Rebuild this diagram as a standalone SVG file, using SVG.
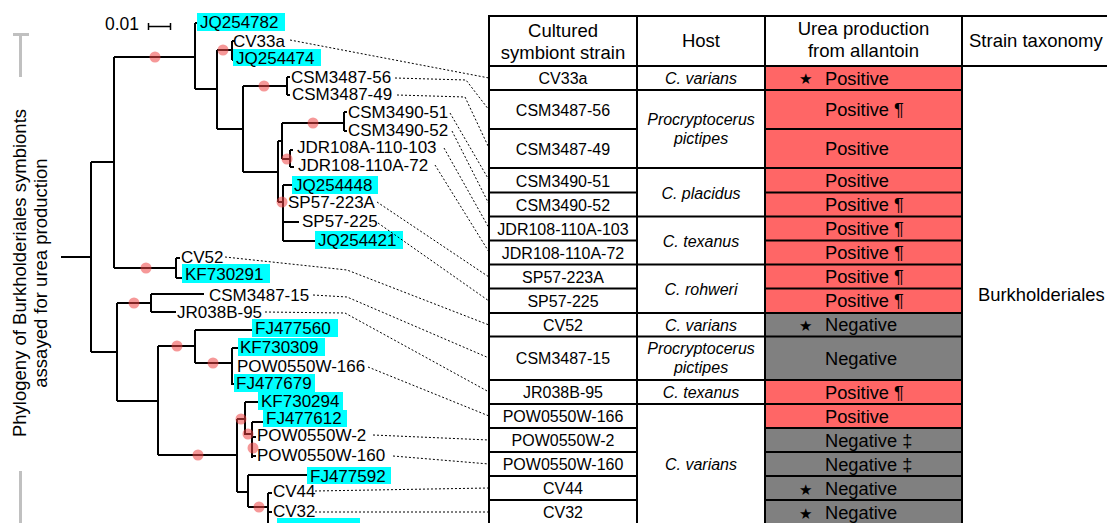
<svg xmlns="http://www.w3.org/2000/svg" width="1107" height="523" viewBox="0 0 1107 523">
<style>
text{font-family:"Liberation Sans",Arial,sans-serif;fill:#000}
.br{fill:none;stroke:#000;stroke-width:2}
.dot{fill:#ee4444;fill-opacity:.55}
.lab{font-size:17px}
.hl{fill:#00ffff}
.con{fill:none;stroke:#000;stroke-width:1;stroke-dasharray:2 2}
.tl{fill:none;stroke:#000;stroke-width:2}
.hd{font-size:18.5px;text-anchor:middle}
.cell{font-size:16px;text-anchor:middle}
.host{font-size:16px;text-anchor:middle;font-style:italic}
.ur{font-size:18.3px}
.pos{fill:#ff6666}
.neg{fill:#808080}
.star{font-family:"DejaVu Sans",sans-serif;font-size:15px}
.gray{fill:none;stroke:#c0c0c0;stroke-width:3}
</style>

<g id="side-label">
<path class="gray" d="M13,34.5 H29 M20.5,34 V77 M20.5,471 V523"/>
<text transform="translate(26,273) rotate(-90)" font-size="18.5" text-anchor="middle">Phylogeny of Burkholderiales symbionts</text>
<text transform="translate(47,273) rotate(-90)" font-size="18.5" text-anchor="middle">assayed for urea production</text>
</g>

<g id="scale-bar">
<text x="105" y="30" font-size="17.5">0.01</text>
<path class="br" d="M148,26.5 H171 M148.5,23 V30 M170.5,23 V30" style="stroke-width:1.5"/>
</g>

<g id="tree">
<path class="br" d="M61,257 H91 M91,162 V352
M91,162 H114 M114,57 V268 M114,57 H195 M195,23 V89 M195,23 H199
M195,89 H217 M217,50 V129 M217,50 H232 M232,41 V60 M232,41 H235 M232,60 H235
M217,129 H243 M243,86 V172 M243,86 H287 M287,77 V95 M287,77 H290 M287,95 H290
M243,172 H278 M278,141 V202 M278,141 H282 M282,123 V159 M282,123 H344 M344,112 V131 M344,112 H347 M344,131 H347
M282,159 H290 M290,150 V167 M290,150 H293 M290,167 H294
M278,202 H283 M283,185 V241 M283,185 H292 M283,222 H299 M283,241 H315
M114,268 H176 M176,258 V278 M176,258 H180 M176,278 H182
M91,352 H117 M117,303 V401 M117,303 H151 M151,294 V312 M151,294 H204 M151,312 H176
M117,401 H158 M158,346 V455 M158,346 H195 M195,330 V363 M195,330 H252 M195,363 H232 M232,348 V385 M232,348 H238 M232,384 H234
M158,455 H237 M237,419 V492 M237,419 H245 M245,402 V435 M245,402 H260 M245,434 H252 M252,422 V458 M252,422 H263 M252,437 H256 M252,456 H256
M237,492 H248 M248,475 V507 M248,475 H307 M248,507 H268 M268,493 V523 M268,493 H272 M268,512 H272"/>
<circle class="dot" cx="155" cy="57" r="5.5"/>
<circle class="dot" cx="223" cy="50" r="5.5"/>
<circle class="dot" cx="264" cy="86" r="5.5"/>
<circle class="dot" cx="313" cy="123" r="5.5"/>
<circle class="dot" cx="287" cy="159" r="5.5"/>
<circle class="dot" cx="282" cy="202" r="5.5"/>
<circle class="dot" cx="146" cy="268" r="5.5"/>
<circle class="dot" cx="134" cy="303" r="5.5"/>
<circle class="dot" cx="177" cy="346" r="5.5"/>
<circle class="dot" cx="213" cy="363" r="5.5"/>
<circle class="dot" cx="198" cy="455" r="5.5"/>
<circle class="dot" cx="241" cy="419" r="5.5"/>
<circle class="dot" cx="248" cy="434" r="5.5"/>
<circle class="dot" cx="253" cy="448" r="5.5"/>
<circle class="dot" cx="259" cy="507" r="5.5"/>
</g>

<g id="leaves">
<rect class="hl" x="197" y="13" width="88" height="18"/><text class="lab" x="200" y="28">JQ254782</text>
<text class="lab" x="233" y="47">CV33a</text>
<rect class="hl" x="233" y="49" width="88" height="17"/><text class="lab" x="236" y="64">JQ254474</text>
<text class="lab" x="291" y="83">CSM3487-56</text>
<text class="lab" x="292" y="100">CSM3487-49</text>
<text class="lab" x="348" y="118">CSM3490-51</text>
<text class="lab" x="348" y="136">CSM3490-52</text>
<text class="lab" x="297" y="153">JDR108A-110-103</text>
<text class="lab" x="298" y="171">JDR108-110A-72</text>
<rect class="hl" x="292" y="176" width="86" height="18"/><text class="lab" x="294" y="191">JQ254448</text>
<text class="lab" x="288" y="208">SP57-223A</text>
<text class="lab" x="302" y="227">SP57-225</text>
<rect class="hl" x="315" y="231" width="88" height="18"/><text class="lab" x="318" y="246">JQ254421</text>
<text class="lab" x="181" y="263">CV52</text>
<rect class="hl" x="182" y="264" width="88" height="19"/><text class="lab" x="185" y="280">KF730291</text>
<text class="lab" x="209" y="301">CSM3487-15</text>
<text class="lab" x="177" y="318">JR038B-95</text>
<rect class="hl" x="252" y="319" width="86" height="18"/><text class="lab" x="255" y="334">FJ477560</text>
<rect class="hl" x="238" y="338" width="87" height="18"/><text class="lab" x="240" y="353">KF730309</text>
<text class="lab" x="237" y="372">POW0550W-166</text>
<rect class="hl" x="234" y="374" width="81" height="18"/><text class="lab" x="236" y="389">FJ477679</text>
<rect class="hl" x="258" y="392" width="85" height="18"/><text class="lab" x="261" y="407">KF730294</text>
<rect class="hl" x="263" y="410" width="84" height="17"/><text class="lab" x="266" y="424">FJ477612</text>
<text class="lab" x="257" y="441">POW0550W-2</text>
<text class="lab" x="257" y="461">POW0550W-160</text>
<rect class="hl" x="307" y="467" width="84" height="17"/><text class="lab" x="310" y="482">FJ477592</text>
<text class="lab" x="273" y="497">CV44</text>
<text class="lab" x="273" y="517">CV32</text>
<rect class="hl" x="277" y="518" width="83" height="10"/>
</g>

<g id="connectors">
<path class="con" d="M290,40 L489,78"/>
<path class="con" d="M395,78 L466,80 L489,110"/>
<path class="con" d="M397,95 L465,97 L489,148"/>
<path class="con" d="M450,113 L489,180"/>
<path class="con" d="M452,131 L489,204"/>
<path class="con" d="M444,148 L489,228"/>
<path class="con" d="M435,165 L489,252"/>
<path class="con" d="M377,202 L489,277"/>
<path class="con" d="M378,223 L489,301"/>
<path class="con" d="M225,257 L347,270 L489,325"/>
<path class="con" d="M313,295 L347,297 L489,358"/>
<path class="con" d="M265,312 L345,313 L489,392"/>
<path class="con" d="M368,367 L489,416"/>
<path class="con" d="M373,435 L489,440"/>
<path class="con" d="M393,456 L489,464"/>
<path class="con" d="M315,491 L489,488"/>
<path class="con" d="M315,512 L489,512"/>
</g>

<g id="table">
<rect class="pos" x="765" y="66" width="197" height="247"/>
<rect class="neg" x="765" y="313" width="197" height="67"/>
<rect class="pos" x="765" y="380" width="197" height="48"/>
<rect class="neg" x="765" y="428" width="197" height="96"/>
<path class="tl" d="M489,16 H1107 M489,66 H1107
M489,15 V524 M637,15 V524 M765,15 V524 M962,15 V524
M489,90 H962 M489,129 H637 M765,129 H962 M489,168 H962
M489,192.5 H637 M765,192.5 H962 M489,216.5 H962
M489,240.5 H637 M765,240.5 H962 M489,264.5 H962
M489,288.5 H637 M765,288.5 H962 M489,313 H962
M489,336.5 H962 M489,380 H962 M489,404 H962
M489,428 H637 M765,428 H962 M489,452 H637 M765,452 H962
M489,476 H637 M765,476 H962 M489,500 H637 M765,500 H962"/>
<text class="hd" x="563" y="36.5">Cultured</text>
<text class="hd" x="563" y="58.5">symbiont strain</text>
<text class="hd" x="701" y="46.5">Host</text>
<text class="hd" x="863.5" y="35">Urea production</text>
<text class="hd" x="863.5" y="57">from allantoin</text>
<text x="969" y="46.5" font-size="18.5">Strain taxonomy</text>

<text class="cell" x="563" y="84">CV33a</text>
<text class="cell" x="563" y="115.5">CSM3487-56</text>
<text class="cell" x="563" y="154.5">CSM3487-49</text>
<text class="cell" x="563" y="186.5">CSM3490-51</text>
<text class="cell" x="563" y="210.5">CSM3490-52</text>
<text class="cell" x="563" y="234.5">JDR108-110A-103</text>
<text class="cell" x="563" y="258.5">JDR108-110A-72</text>
<text class="cell" x="563" y="282.5">SP57-223A</text>
<text class="cell" x="563" y="307">SP57-225</text>
<text class="cell" x="563" y="331">CV52</text>
<text class="cell" x="563" y="364">CSM3487-15</text>
<text class="cell" x="563" y="398">JR038B-95</text>
<text class="cell" x="563" y="422">POW0550W-166</text>
<text class="cell" x="563" y="446">POW0550W-2</text>
<text class="cell" x="563" y="470">POW0550W-160</text>
<text class="cell" x="563" y="494">CV44</text>
<text class="cell" x="563" y="518">CV32</text>

<text class="host" x="701" y="84">C. varians</text>
<text class="host" x="701" y="125">Procryptocerus</text>
<text class="host" x="701" y="144">pictipes</text>
<text class="host" x="701" y="198.5">C. placidus</text>
<text class="host" x="701" y="246.5">C. texanus</text>
<text class="host" x="701" y="295">C. rohweri</text>
<text class="host" x="701" y="331">C. varians</text>
<text class="host" x="701" y="354">Procryptocerus</text>
<text class="host" x="701" y="373">pictipes</text>
<text class="host" x="701" y="398">C. texanus</text>
<text class="host" x="701" y="470">C. varians</text>

<text class="star" x="799" y="84">★</text>
<text class="ur" x="825" y="84.5">Positive</text>
<text class="ur" x="825" y="116">Positive ¶</text>
<text class="ur" x="825" y="155">Positive</text>
<text class="ur" x="825" y="187">Positive</text>
<text class="ur" x="825" y="211">Positive ¶</text>
<text class="ur" x="825" y="235">Positive ¶</text>
<text class="ur" x="825" y="259">Positive ¶</text>
<text class="ur" x="825" y="283">Positive ¶</text>
<text class="ur" x="825" y="307">Positive ¶</text>
<text class="star" x="799" y="331">★</text>
<text class="ur" x="825" y="331">Negative</text>
<text class="ur" x="825" y="365">Negative</text>
<text class="ur" x="825" y="398.5">Positive ¶</text>
<text class="ur" x="825" y="422.5">Positive</text>
<text class="ur" x="825" y="446.5">Negative ‡</text>
<text class="ur" x="825" y="470.5">Negative ‡</text>
<text class="star" x="799" y="495">★</text>
<text class="ur" x="825" y="494.5">Negative</text>
<text class="star" x="799" y="519">★</text>
<text class="ur" x="825" y="518.5">Negative</text>

<text x="978" y="301" font-size="18.4">Burkholderiales</text>
</g>
</svg>
